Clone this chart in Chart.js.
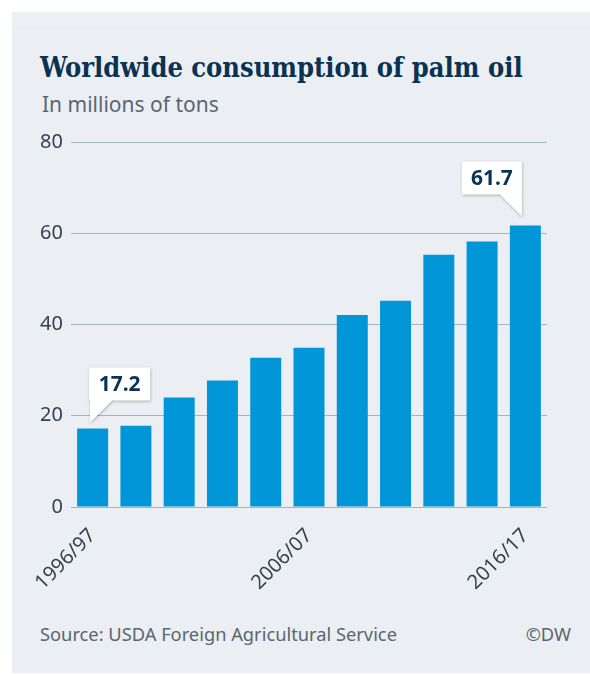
<!DOCTYPE html>
<html>
<head>
<meta charset="utf-8">
<script src="https://cdn.jsdelivr.net/npm/chart.js@4.4.1/dist/chart.umd.min.js"></script>
<style>
  html, body { margin: 0; padding: 0; background: #ffffff; }
  body { width: 590px; height: 674px; position: relative; overflow: hidden; }
  #panel { position: absolute; left: 12px; top: 12px; width: 578px; height: 661px;
           background: linear-gradient(#eef1f4 0px, #eef1f4 14px, #ebeff3 14px); }
  #title { position: absolute; left: 40px; top: 52px; margin: 0; white-space: nowrap;
           font-family: "DejaVu Serif Condensed", "DejaVu Serif", serif; font-stretch: condensed;
           font-weight: bold; font-size: 27px; line-height: 32px; color: #0c3252; }
  #subtitle { position: absolute; left: 42px; top: 90px; white-space: nowrap;
           font-family: "Noto Sans", sans-serif; font-size: 21px; line-height: 28px; color: #5b6670; }
  #source { position: absolute; left: 40px; top: 621px; white-space: nowrap;
           font-family: "Noto Sans", sans-serif; font-size: 18.3px; line-height: 26px; color: #5b6670; }
  #credit { position: absolute; right: 19px; top: 621px; white-space: nowrap;
           font-family: "Noto Sans", sans-serif; font-size: 18.3px; line-height: 26px; color: #5b6670; }
  #chartBox { position: absolute; left: 0; top: 120px; width: 590px; height: 480px; }
</style>
</head>
<body>
<div id="panel"></div>
<h1 id="title">Worldwide consumption of palm oil</h1>
<div id="subtitle">In millions of tons</div>
<div id="chartBox"><canvas id="c"></canvas></div>
<div id="source">Source: USDA Foreign Agricultural Service</div>
<div id="credit">©DW</div>
<script>
const categories = ['1996/97','1998/99','2000/01','2002/03','2004/05','2006/07','2008/09','2010/11','2012/13','2014/15','2016/17'];
const consumption = [17.2, 17.8, 24.0, 27.7, 32.7, 34.9, 42.1, 45.2, 55.3, 58.2, 61.7];
const shownLabels = ['1996/97','2006/07','2016/17'];
const yTicks = [0, 20, 40, 60, 80];
const calloutIndexes = [0, 10];

const calloutPlugin = {
  id: 'callouts',
  afterDatasetsDraw(chart) {
    const ctx = chart.ctx;
    const meta = chart.getDatasetMeta(0);
    calloutIndexes.forEach((idx, n) => {
      const bar = meta.data[idx];
      const leftSide = n === 0;
      const tipX = leftSide ? bar.x - 2.5 : bar.x - 3.5;
      const tipY = leftSide ? bar.y - 6 : bar.y - 9;
      const w = leftSide ? 61 : 60, h = 33, tri = 22;
      const bottom = tipY - tri, top = bottom - h;
      const left = leftSide ? tipX - 1 : tipX - w;
      const right = left + w;
      ctx.save();
      ctx.beginPath();
      ctx.moveTo(left, top);
      ctx.lineTo(right, top);
      if (leftSide) {
        ctx.lineTo(right, bottom);
        ctx.lineTo(tipX + tri, bottom);
        ctx.lineTo(tipX, tipY);
        ctx.lineTo(tipX, bottom);
        ctx.lineTo(left, bottom);
      } else {
        ctx.lineTo(tipX, tipY);
        ctx.lineTo(tipX - tri, bottom);
        ctx.lineTo(left, bottom);
      }
      ctx.closePath();
      ctx.shadowColor = 'rgba(0,0,0,0.28)';
      ctx.shadowBlur = 3;
      ctx.shadowOffsetX = 0.5;
      ctx.shadowOffsetY = 1;
      ctx.fillStyle = '#ffffff';
      ctx.fill();
      ctx.shadowColor = 'transparent';
      ctx.fillStyle = '#0b3354';
      ctx.font = 'bold 21px "Noto Sans", sans-serif';
      ctx.textAlign = 'center';
      ctx.textBaseline = 'middle';
      ctx.fillText(String(consumption[idx]), (left + right) / 2, (top + bottom) / 2 + 1);
      ctx.restore();
    });
  }
};

new Chart(document.getElementById('c'), {
  type: 'bar',
  data: {
    labels: categories,
    datasets: [{
      data: consumption,
      backgroundColor: '#0096d8',
      borderWidth: 0,
      categoryPercentage: 1,
      barPercentage: 0.716
    }]
  },
  options: {
    responsive: true,
    maintainAspectRatio: false,
    animation: false,
    devicePixelRatio: 1,
    layout: { padding: { top: 22, right: 43, left: 0, bottom: 0 } },
    plugins: { legend: { display: false }, tooltip: { enabled: false }, title: { display: false } },
    scales: {
      x: {
        grid: { display: false },
        border: { display: false },
        ticks: {
          autoSkip: false,
          maxRotation: 45,
          minRotation: 45,
          padding: 9,
          color: '#36414b',
          font: { family: '"Noto Sans", sans-serif', size: 20 },
          callback: function(value) {
            const lab = this.getLabelForValue(value);
            return shownLabels.includes(lab) ? lab : '';
          }
        },
        afterFit(scale) { scale.height = 93; }
      },
      y: {
        min: 0,
        max: 80,
        afterBuildTicks(scale) { scale.ticks = yTicks.map(v => ({ value: v })); },
        grid: { color: '#a3b5c3', lineWidth: 1, drawTicks: false },
        border: { display: false },
        ticks: {
          padding: 8,
          color: '#36414b',
          font: { family: '"Noto Sans", sans-serif', size: 20 }
        },
        afterFit(scale) { scale.width = 71; }
      }
    }
  },
  plugins: [calloutPlugin]
});
</script>
</body>
</html>
